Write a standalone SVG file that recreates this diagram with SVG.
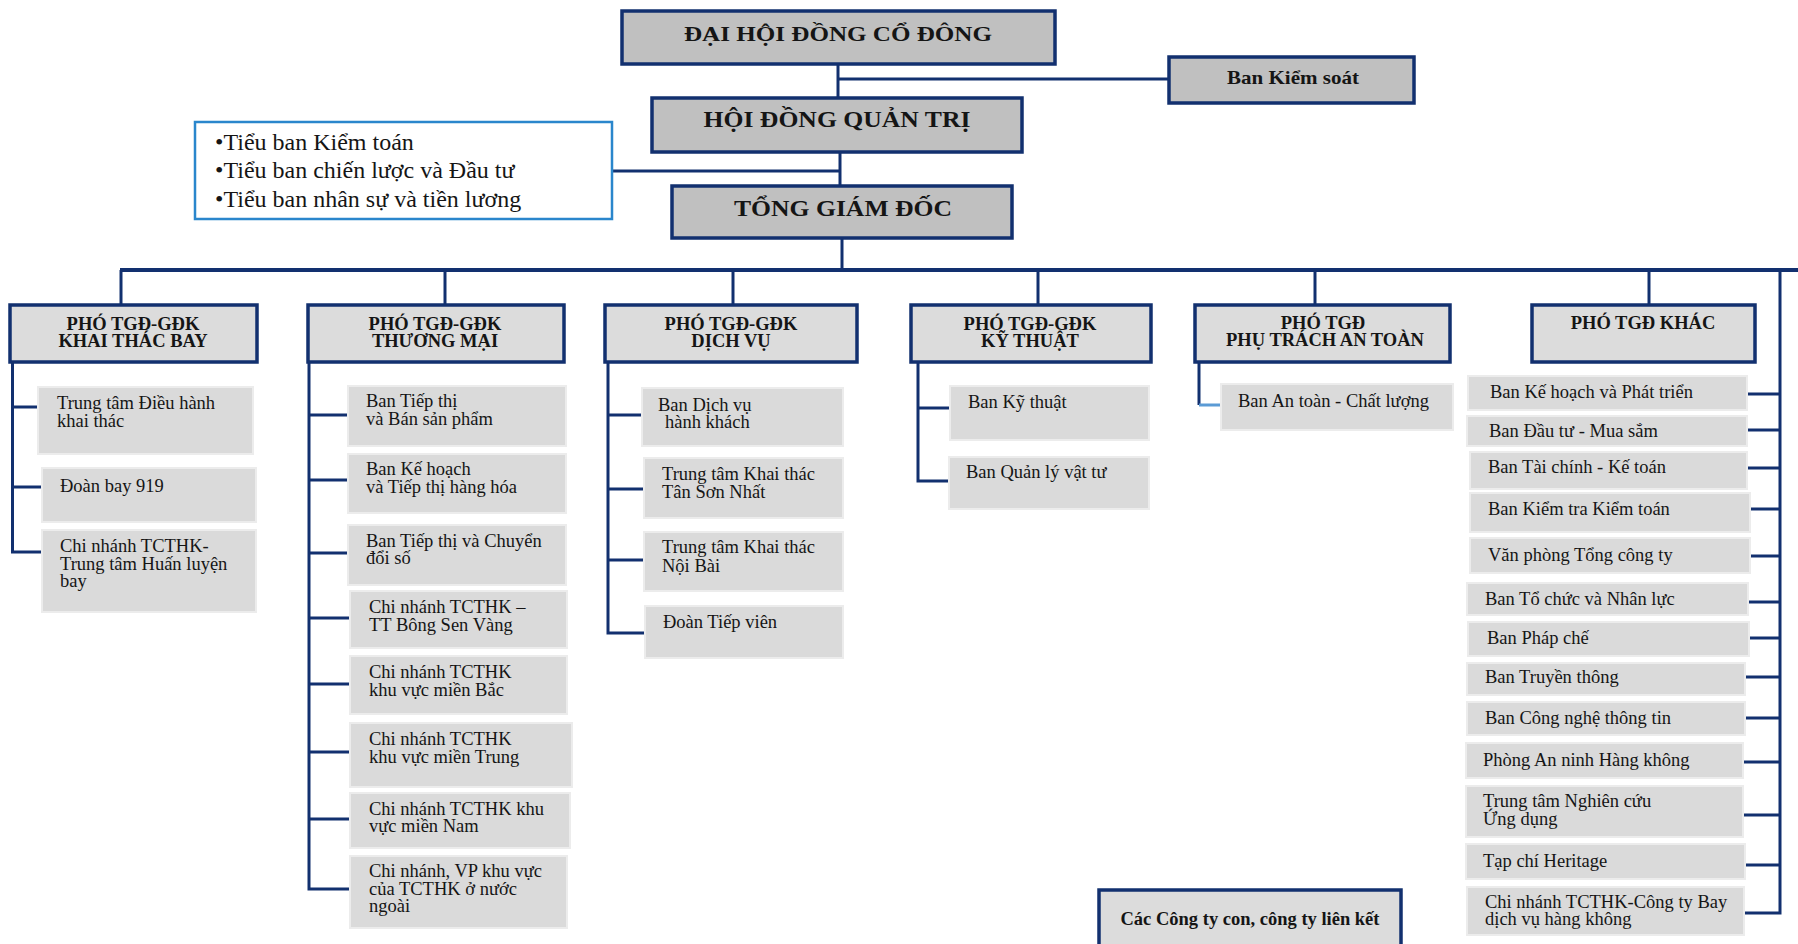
<svg xmlns="http://www.w3.org/2000/svg" width="1798" height="944" viewBox="0 0 1798 944">
<style>
.top{fill:#c0c0c0;stroke:#12306f;stroke-width:3.5}
.vp{fill:#dcdcdc;stroke:#12306f;stroke-width:3.5}
.sub{fill:#dadada;stroke:#ececec;stroke-width:2}
.tb{fill:#ffffff;stroke:#2a86cc;stroke-width:2.5}
.c{stroke:#12306f;stroke-width:3;fill:none}
.bus{stroke:#12306f;stroke-width:4;fill:none}
.lb{stroke:#5b9bd5;stroke-width:3;fill:none}
text{font-family:"Liberation Serif","Times New Roman",serif;fill:#151515}
.t{font-size:18.5px}
.h{font-size:18.5px;font-weight:bold;text-anchor:middle}
.big{font-weight:bold;text-anchor:middle}
</style>
<rect width="1798" height="944" fill="#ffffff"/>

<g id="connectors">
  <path class="c" d="M838 64 V98"/>
  <path class="c" d="M838 79 H1169"/>
  <path class="c" d="M840 152 V186"/>
  <path class="c" d="M612 171 H840"/>
  <path class="c" d="M842 238 V270"/>
  <path class="bus" d="M120 270 H1798"/>
  <path class="c" d="M121 270 V305"/>
  <path class="c" d="M445 270 V305"/>
  <path class="c" d="M733 270 V305"/>
  <path class="c" d="M1038 270 V305"/>
  <path class="c" d="M1315 270 V305"/>
  <path class="c" d="M1649 270 V305"/>
  <path class="c" d="M1780 268 V913 H1744"/>
  <path class="c" d="M12.5 362 V552 H42"/>
  <path class="c" d="M12.5 407 H38"/>
  <path class="c" d="M12.5 487 H42"/>
  <path class="c" d="M309 362 V889 H350"/>
  <path class="c" d="M309 415 H348"/>
  <path class="c" d="M309 480 H348"/>
  <path class="c" d="M309 553 H348"/>
  <path class="c" d="M309 618 H350"/>
  <path class="c" d="M309 684 H350"/>
  <path class="c" d="M309 752 H350"/>
  <path class="c" d="M309 819 H350"/>
  <path class="c" d="M608 362 V633 H645"/>
  <path class="c" d="M608 415 H642"/>
  <path class="c" d="M608 489 H644"/>
  <path class="c" d="M608 560 H644"/>
  <path class="c" d="M918 362 V481 H949"/>
  <path class="c" d="M918 408 H950"/>
  <path class="c" d="M1199 362 V405"/>
  <path class="lb" d="M1199 405 H1221"/>
  <path class="c" d="M1747 394 H1780"/>
  <path class="c" d="M1747 430 H1780"/>
  <path class="c" d="M1747 468 H1780"/>
  <path class="c" d="M1750 509 H1780"/>
  <path class="c" d="M1750 556 H1780"/>
  <path class="c" d="M1748 602 H1780"/>
  <path class="c" d="M1749 638 H1780"/>
  <path class="c" d="M1745 677 H1780"/>
  <path class="c" d="M1745 718 H1780"/>
  <path class="c" d="M1743 762 H1780"/>
  <path class="c" d="M1743 815 H1780"/>
  <path class="c" d="M1745 865 H1780"/>
</g>

<g id="dhdcd"><rect class="top" x="622" y="11" width="433" height="53"/><text class="big" x="838" y="41" font-size="22" textLength="308" lengthAdjust="spacingAndGlyphs">ĐẠI HỘI ĐỒNG CỔ ĐÔNG</text></g>
<g id="bks"><rect class="top" x="1169" y="57" width="245" height="46"/><text class="big" x="1293" y="84" font-size="19" textLength="132" lengthAdjust="spacingAndGlyphs">Ban Kiểm soát</text></g>
<g id="hdqt"><rect class="top" x="652" y="98" width="370" height="54"/><text class="big" x="837" y="127" font-size="23" textLength="267" lengthAdjust="spacingAndGlyphs">HỘI ĐỒNG QUẢN TRỊ</text></g>
<g id="tieuban"><rect class="tb" x="195" y="122" width="417" height="97"/>
  <text x="215" y="150" font-size="24">•Tiểu ban Kiểm toán</text>
  <text x="215" y="178" font-size="24">•Tiểu ban chiến lược và Đầu tư</text>
  <text x="215" y="207" font-size="24">•Tiểu ban nhân sự và tiền lương</text>
</g>
<g id="tgd"><rect class="top" x="672" y="186" width="340" height="52"/><text class="big" x="843" y="216" font-size="23.5" textLength="218" lengthAdjust="spacingAndGlyphs">TỔNG GIÁM ĐỐC</text></g>

<g id="vp-ktb"><rect class="vp" x="10" y="305" width="247" height="57"/><text class="h" x="133" y="330">PHÓ TGĐ-GĐK</text><text class="h" x="133" y="347">KHAI THÁC BAY</text></g>
<g id="vp-tm"><rect class="vp" x="308" y="305" width="256" height="57"/><text class="h" x="435" y="330">PHÓ TGĐ-GĐK</text><text class="h" x="435" y="347">THƯƠNG MẠI</text></g>
<g id="vp-dv"><rect class="vp" x="605" y="305" width="252" height="57"/><text class="h" x="731" y="330">PHÓ TGĐ-GĐK</text><text class="h" x="731" y="347">DỊCH VỤ</text></g>
<g id="vp-kt"><rect class="vp" x="911" y="305" width="240" height="57"/><text class="h" x="1030" y="330">PHÓ TGĐ-GĐK</text><text class="h" x="1030" y="347">KỸ THUẬT</text></g>
<g id="vp-at"><rect class="vp" x="1195" y="305" width="255" height="57"/><text class="h" x="1323" y="329">PHÓ TGĐ</text><text class="h" x="1325" y="346">PHỤ TRÁCH AN TOÀN</text></g>
<g id="vp-khac"><rect class="vp" x="1532" y="305" width="223" height="57"/><text class="h" x="1643" y="329">PHÓ TGĐ KHÁC</text></g>

<g id="ktb-1"><rect class="sub" x="38" y="387" width="215" height="67"/><text class="t" x="57" y="409">Trung tâm Điều hành</text><text class="t" x="57" y="427">khai thác</text></g>
<g id="ktb-2"><rect class="sub" x="42" y="468" width="214" height="54"/><text class="t" x="60" y="492">Đoàn bay 919</text></g>
<g id="ktb-3"><rect class="sub" x="42" y="530" width="214" height="82"/><text class="t" x="60" y="552">Chi nhánh TCTHK-</text><text class="t" x="60" y="570">Trung tâm Huấn luyện</text><text class="t" x="60" y="587">bay</text></g>

<g id="tm-1"><rect class="sub" x="348" y="386" width="218" height="60"/><text class="t" x="366" y="407">Ban Tiếp thị</text><text class="t" x="366" y="425">và Bán sản phẩm</text></g>
<g id="tm-2"><rect class="sub" x="348" y="454" width="218" height="59"/><text class="t" x="366" y="475">Ban Kế hoạch</text><text class="t" x="366" y="493">và Tiếp thị hàng hóa</text></g>
<g id="tm-3"><rect class="sub" x="348" y="525" width="218" height="60"/><text class="t" x="366" y="547">Ban Tiếp thị và Chuyển</text><text class="t" x="366" y="564">đổi số</text></g>
<g id="tm-4"><rect class="sub" x="350" y="591" width="217" height="57"/><text class="t" x="369" y="613">Chi nhánh TCTHK –</text><text class="t" x="369" y="631">TT Bông Sen Vàng</text></g>
<g id="tm-5"><rect class="sub" x="350" y="656" width="217" height="58"/><text class="t" x="369" y="678">Chi nhánh TCTHK</text><text class="t" x="369" y="696">khu vực miền Bắc</text></g>
<g id="tm-6"><rect class="sub" x="350" y="723" width="222" height="64"/><text class="t" x="369" y="745">Chi nhánh TCTHK</text><text class="t" x="369" y="763">khu vực miền Trung</text></g>
<g id="tm-7"><rect class="sub" x="350" y="793" width="220" height="55"/><text class="t" x="369" y="815">Chi nhánh TCTHK khu</text><text class="t" x="369" y="832">vực miền Nam</text></g>
<g id="tm-8"><rect class="sub" x="350" y="856" width="217" height="72"/><text class="t" x="369" y="877">Chi nhánh, VP khu vực</text><text class="t" x="369" y="895">của TCTHK ở nước</text><text class="t" x="369" y="912">ngoài</text></g>

<g id="dv-1"><rect class="sub" x="642" y="388" width="201" height="58"/><text class="t" x="658" y="411">Ban Dịch vụ</text><text class="t" x="665" y="428">hành khách</text></g>
<g id="dv-2"><rect class="sub" x="644" y="458" width="199" height="60"/><text class="t" x="662" y="480">Trung tâm Khai thác</text><text class="t" x="662" y="498">Tân Sơn Nhất</text></g>
<g id="dv-3"><rect class="sub" x="644" y="532" width="199" height="59"/><text class="t" x="662" y="553">Trung tâm Khai thác</text><text class="t" x="662" y="572">Nội Bài</text></g>
<g id="dv-4"><rect class="sub" x="645" y="606" width="198" height="52"/><text class="t" x="663" y="628">Đoàn Tiếp viên</text></g>

<g id="kt-1"><rect class="sub" x="950" y="386" width="199" height="54"/><text class="t" x="968" y="408">Ban Kỹ thuật</text></g>
<g id="kt-2"><rect class="sub" x="949" y="457" width="200" height="52"/><text class="t" x="966" y="478">Ban Quản lý vật tư</text></g>

<g id="at-1"><rect class="sub" x="1221" y="384" width="232" height="46"/><text class="t" x="1238" y="407">Ban An toàn - Chất lượng</text></g>

<g id="k-1"><rect class="sub" x="1468" y="376" width="279" height="34"/><text class="t" x="1490" y="398">Ban Kế hoạch và Phát triển</text></g>
<g id="k-2"><rect class="sub" x="1467" y="416" width="280" height="30"/><text class="t" x="1489" y="437">Ban Đầu tư - Mua sắm</text></g>
<g id="k-3"><rect class="sub" x="1470" y="452" width="277" height="37"/><text class="t" x="1488" y="473">Ban Tài chính - Kế toán</text></g>
<g id="k-4"><rect class="sub" x="1470" y="493" width="280" height="39"/><text class="t" x="1488" y="515">Ban Kiểm tra Kiểm toán</text></g>
<g id="k-5"><rect class="sub" x="1470" y="538" width="280" height="35"/><text class="t" x="1488" y="561">Văn phòng Tổng công ty</text></g>
<g id="k-6"><rect class="sub" x="1467" y="583" width="281" height="32"/><text class="t" x="1485" y="605">Ban Tổ chức và Nhân lực</text></g>
<g id="k-7"><rect class="sub" x="1468" y="622" width="281" height="34"/><text class="t" x="1487" y="644">Ban Pháp chế</text></g>
<g id="k-8"><rect class="sub" x="1467" y="663" width="278" height="32"/><text class="t" x="1485" y="683">Ban Truyền thông</text></g>
<g id="k-9"><rect class="sub" x="1467" y="702" width="278" height="33"/><text class="t" x="1485" y="724">Ban Công nghệ thông tin</text></g>
<g id="k-10"><rect class="sub" x="1466" y="743" width="277" height="35"/><text class="t" x="1483" y="766">Phòng An ninh Hàng không</text></g>
<g id="k-11"><rect class="sub" x="1466" y="786" width="277" height="51"/><text class="t" x="1483" y="807">Trung tâm Nghiên cứu</text><text class="t" x="1483" y="825">Ứng dụng</text></g>
<g id="k-12"><rect class="sub" x="1466" y="844" width="279" height="35"/><text class="t" x="1483" y="867">Tạp chí Heritage</text></g>
<g id="k-13"><rect class="sub" x="1467" y="887" width="277" height="48"/><text class="t" x="1485" y="908">Chi nhánh TCTHK-Công ty Bay</text><text class="t" x="1485" y="925">dịch vụ hàng không</text></g>

<g id="cty-con"><rect class="vp" x="1099" y="890" width="302" height="60"/><text class="big" x="1250" y="925" font-size="18.5">Các Công ty con, công ty liên kết</text></g>
</svg>
